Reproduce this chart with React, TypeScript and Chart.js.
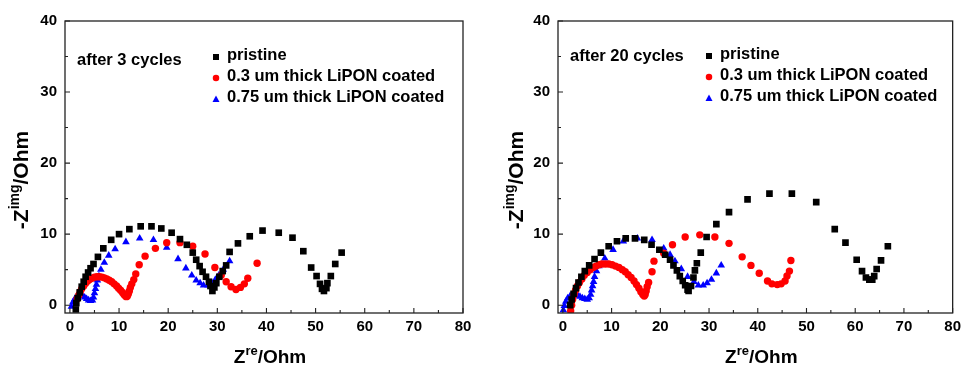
import React, { useEffect, useRef } from "react";
import { Chart, registerables } from "chart.js";

Chart.register(...registerables);

// ---------- data ----------
const xTicks = [0, 10, 20, 30, 40, 50, 60, 70, 80];
const yTicks = [0, 10, 20, 30, 40];
const seriesLabels = ["pristine", "0.3 um thick LiPON coated", "0.75 um thick LiPON coated"];
const panelNotes = ["after 3 cycles", "after 20 cycles"];
const xTitle = { main: "Z", sup: "re", rest: "/Ohm" };
const yTitle = { pre: "-Z", sup: "img", rest: "/Ohm" };

// after 3 cycles
const c3PristineX = [1.2, 1.3, 1.6, 2.0, 2.4, 2.8, 3.2, 3.7, 4.2, 4.8, 5.7, 6.8, 8.4, 10.0, 12.1, 14.4, 16.6, 18.6, 20.7, 22.4, 23.8, 25.0, 25.7, 26.4, 27.0, 27.7, 28.3, 28.6, 29.0, 29.4, 29.8, 30.4, 31.1, 31.8, 32.5, 34.2, 36.6, 39.2, 42.5, 45.3, 47.5, 49.1, 50.2, 50.9, 51.3, 51.7, 52.2, 52.4, 53.1, 54.0, 55.3];
const c3PristineY = [-0.6, 0.3, 1.0, 1.8, 2.6, 3.3, 4.0, 4.6, 5.2, 5.8, 6.8, 8.0, 9.2, 10.0, 10.7, 11.1, 11.1, 10.8, 10.2, 9.3, 8.5, 7.4, 6.4, 5.5, 4.7, 4.0, 3.3, 2.7, 2.0, 2.5, 3.1, 4.0, 4.8, 5.6, 7.5, 8.7, 9.7, 10.5, 10.2, 9.5, 7.6, 5.3, 4.1, 3.0, 2.3, 2.0, 2.4, 3.1, 4.1, 5.8, 7.4];
const c3ThinX = [1.5, 1.8, 2.1, 2.4, 2.8, 3.2, 3.6, 4.0, 4.5, 5.0, 5.5, 6.0, 6.5, 7.0, 7.5, 8.0, 8.5, 9.0, 9.5, 9.9, 10.3, 10.7, 11.0, 11.3, 11.5, 11.7, 11.9, 12.1, 12.3, 12.6, 13.0, 13.4, 14.1, 15.3, 17.4, 19.7, 22.4, 25.0, 27.5, 29.5, 30.8, 31.8, 32.8, 33.8, 34.7, 35.5, 36.2, 38.1];
const c3ThinY = [0.9, 1.4, 1.9, 2.3, 2.7, 3.1, 3.4, 3.6, 3.8, 3.95, 4.0, 4.0, 3.95, 3.85, 3.7, 3.5, 3.3, 3.0, 2.7, 2.4, 2.1, 1.8, 1.5, 1.3, 1.2, 1.3, 1.6, 2.0, 2.5, 3.0, 3.6, 4.4, 5.7, 6.9, 8.0, 8.8, 8.8, 8.3, 7.2, 5.3, 4.2, 3.3, 2.6, 2.2, 2.5, 3.0, 3.8, 5.9];
const c3ThickX = [0.3, 0.6, 1.0, 1.4, 1.8, 2.2, 2.6, 3.0, 3.4, 3.8, 4.2, 4.6, 4.8, 5.0, 5.2, 5.4, 5.6, 5.9, 6.3, 7.0, 7.9, 9.2, 11.4, 14.2, 17.0, 19.7, 22.0, 23.6, 24.8, 25.7, 26.5, 27.2, 28.1, 28.9, 29.6, 30.3, 31.2, 32.5];
const c3ThickY = [-0.2, 0.4, 0.9, 1.2, 1.4, 1.4, 1.3, 1.1, 0.9, 0.7, 0.6, 0.7, 1.1, 1.7, 2.3, 2.9, 3.5, 4.1, 5.0, 6.0, 7.0, 7.9, 8.9, 9.4, 9.2, 8.1, 6.5, 5.2, 4.2, 3.5, 3.1, 2.8, 2.8, 3.1, 3.6, 4.2, 5.0, 6.2];

// after 20 cycles
const c20PristineX = [1.5, 1.8, 2.2, 2.7, 3.2, 3.8, 4.5, 5.4, 6.5, 7.8, 9.4, 11.1, 12.9, 14.8, 16.7, 18.2, 19.8, 21.0, 22.0, 22.7, 23.4, 24.0, 24.6, 25.1, 25.6, 25.8, 26.3, 26.8, 27.1, 27.5, 28.3, 29.5, 31.5, 34.1, 37.9, 42.4, 47.0, 52.0, 55.8, 58.0, 60.3, 61.4, 62.2, 62.9, 63.5, 63.9, 64.4, 65.3, 66.7];
const c20PristineY = [0.0, 0.8, 1.6, 2.4, 3.2, 4.0, 4.8, 5.6, 6.5, 7.4, 8.3, 9.0, 9.4, 9.4, 9.2, 8.5, 7.8, 7.1, 6.4, 5.6, 4.9, 4.1, 3.4, 2.8, 2.2, 2.0, 2.7, 3.9, 4.9, 5.9, 7.4, 9.6, 11.4, 13.1, 14.9, 15.7, 15.7, 14.5, 10.7, 8.8, 6.4, 4.8, 3.9, 3.6, 3.6, 4.1, 5.1, 6.3, 8.3];
const c20ThinX = [1.6, 1.8, 2.0, 2.3, 2.6, 3.0, 3.4, 3.9, 4.4, 5.0, 5.6, 6.2, 6.8, 7.4, 8.0, 8.7, 9.4, 10.1, 10.8, 11.5, 12.2, 12.8, 13.4, 14.0, 14.6, 15.1, 15.6, 16.0, 16.4, 16.7, 16.9, 17.1, 17.3, 17.6, 18.3, 18.7, 20.7, 22.5, 25.1, 28.1, 31.2, 34.1, 36.8, 38.6, 40.3, 42.0, 42.9, 44.0, 44.8, 45.6, 46.0, 46.5, 46.8];
const c20ThinY = [-0.8, 0.0, 0.8, 1.5, 2.1, 2.7, 3.2, 3.7, 4.2, 4.6, 5.0, 5.3, 5.5, 5.7, 5.8, 5.8, 5.8, 5.7, 5.5, 5.3, 5.0, 4.7, 4.3, 3.9, 3.4, 2.9, 2.4, 1.9, 1.5, 1.3, 1.5, 2.0, 2.6, 3.2, 4.7, 6.2, 7.3, 8.5, 9.6, 9.9, 9.6, 8.7, 6.8, 5.6, 4.5, 3.4, 3.0, 2.9, 3.0, 3.4, 4.1, 4.8, 6.3];
const c20ThickX = [0.1, 0.3, 0.6, 1.0, 1.5, 2.0, 2.5, 3.0, 3.5, 4.0, 4.5, 5.0, 5.4, 5.7, 5.9, 6.1, 6.3, 6.5, 6.9, 7.4, 8.6, 10.3, 12.4, 15.3, 18.3, 20.7, 22.0, 23.0, 24.3, 25.6, 26.9, 27.8, 28.8, 29.6, 30.5, 31.5, 32.5];
const c20ThickY = [-0.7, -0.1, 0.5, 1.0, 1.3, 1.5, 1.5, 1.4, 1.2, 1.0, 0.9, 0.8, 1.0, 1.5, 2.1, 2.7, 3.3, 4.0, 4.8, 5.5, 6.6, 7.8, 9.0, 9.4, 9.2, 8.0, 7.1, 6.2, 5.1, 4.0, 3.3, 2.8, 2.8, 3.1, 3.6, 4.5, 5.6];

const panels = [
  { note: panelNotes[0], series: [[c3PristineX, c3PristineY], [c3ThinX, c3ThinY], [c3ThickX, c3ThickY]] },
  { note: panelNotes[1], series: [[c20PristineX, c20PristineY], [c20ThinX, c20ThinY], [c20ThickX, c20ThickY]] },
];

// ---------- style / layout ----------
const FONT = '"Liberation Sans", Arial, Helvetica, sans-serif';
const colors = ["#000000", "#ff0000", "#0000ff"];
const styles = ["rect", "circle", "triangle"] as const;
const radii = [4.7, 3.7, 4.4];
const CW = 483;
const CH = 367;
const layouts = [
  { canvasLeft: 0, areaLeft: 65, areaRight: 463, yTitleX: 28, xTitleDx: 6, noteY: 60, legendY: [57, 78, 99] },
  { canvasLeft: 483, areaLeft: 75, areaRight: 475, yTitleX: 40, xTitleDx: 6, noteY: 56, legendY: [56, 77, 98] },
];
const AREA_TOP = 21;
const AREA_BOTTOM = 313;

function drawMarker(ctx: CanvasRenderingContext2D, style: string, x: number, y: number, s: number, color: string) {
  ctx.fillStyle = color;
  ctx.beginPath();
  if (style === "rect") {
    ctx.rect(x - s / 2, y - s / 2, s, s);
  } else if (style === "circle") {
    ctx.arc(x, y, s / 2, 0, Math.PI * 2);
  } else {
    const h = s * 0.87;
    ctx.moveTo(x, y - h / 2 - 0.5);
    ctx.lineTo(x + s / 2, y + h / 2);
    ctx.lineTo(x - s / 2, y + h / 2);
    ctx.closePath();
  }
  ctx.fill();
}

function drawSupText(
  ctx: CanvasRenderingContext2D,
  parts: { t: string; sup?: boolean }[],
  cx: number,
  baseY: number,
  mainSize: number,
  supSize: number,
  raise: number
) {
  const widths = parts.map((p) => {
    ctx.font = `bold ${p.sup ? supSize : mainSize}px ${FONT}`;
    return ctx.measureText(p.t).width;
  });
  const total = widths.reduce((a, b) => a + b, 0);
  let x = cx - total / 2;
  ctx.textAlign = "left";
  ctx.textBaseline = "alphabetic";
  parts.forEach((p, i) => {
    ctx.font = `bold ${p.sup ? supSize : mainSize}px ${FONT}`;
    ctx.fillText(p.t, x, p.sup ? baseY - raise : baseY);
    x += widths[i];
  });
}

function makeDecorPlugin(panelIndex: number) {
  const lay = layouts[panelIndex];
  const panel = panels[panelIndex];
  return {
    id: "decor" + panelIndex,
    afterDraw(chart: any) {
      const ctx: CanvasRenderingContext2D = chart.ctx;
      const a = chart.chartArea;
      const xs = chart.scales.x;
      const ys = chart.scales.y;
      ctx.save();
      // frame
      ctx.strokeStyle = "#222";
      ctx.lineWidth = 1.3;
      ctx.strokeRect(a.left, a.top, a.right - a.left, a.bottom - a.top);
      // inward ticks (major + minor)
      ctx.lineWidth = 1.1;
      ctx.beginPath();
      for (let i = 0; i < xTicks.length; i++) {
        const v = xTicks[i];
        const px = xs.getPixelForValue(v);
        ctx.moveTo(px, a.bottom);
        ctx.lineTo(px, a.bottom - 5);
        if (i < xTicks.length - 1) {
          const m = xs.getPixelForValue((v + xTicks[i + 1]) / 2);
          ctx.moveTo(m, a.bottom);
          ctx.lineTo(m, a.bottom - 3);
        }
      }
      for (let i = 0; i < yTicks.length; i++) {
        const v = yTicks[i];
        const py = ys.getPixelForValue(v);
        ctx.moveTo(a.left, py);
        ctx.lineTo(a.left + 5, py);
        if (i < yTicks.length - 1) {
          const m = ys.getPixelForValue((v + yTicks[i + 1]) / 2);
          ctx.moveTo(a.left, m);
          ctx.lineTo(a.left + 3, m);
        }
      }
      ctx.stroke();

      ctx.fillStyle = "#000";
      // x title
      drawSupText(
        ctx,
        [{ t: xTitle.main }, { t: xTitle.sup, sup: true }, { t: xTitle.rest }],
        (a.left + a.right) / 2 + lay.xTitleDx,
        363,
        19,
        13,
        8
      );
      // y title
      ctx.save();
      ctx.translate(lay.yTitleX, 180);
      ctx.rotate(-Math.PI / 2);
      drawSupText(ctx, [{ t: yTitle.pre }, { t: yTitle.sup, sup: true }, { t: yTitle.rest }], 0, 0, 21, 14, 9);
      ctx.restore();

      // note
      ctx.font = `bold 16.5px ${FONT}`;
      ctx.textAlign = "left";
      ctx.textBaseline = "middle";
      ctx.fillStyle = "#000";
      ctx.fillText(panel.note, a.left + 12, lay.noteY);

      // legend
      const markerSizes = [6, 6.5, 7];
      for (let i = 0; i < 3; i++) {
        const y = lay.legendY[i];
        drawMarker(ctx, styles[i], a.left + 151, y, markerSizes[i], colors[i]);
        ctx.fillStyle = "#000";
        ctx.font = `bold 16.5px ${FONT}`;
        ctx.fillText(seriesLabels[i], a.left + 162, y - 2);
      }
      ctx.restore();
    },
  };
}

function buildConfig(panelIndex: number): any {
  const lay = layouts[panelIndex];
  const panel = panels[panelIndex];
  return {
    type: "scatter",
    data: {
      datasets: panel.series.map(([xsArr, ysArr], i) => ({
        label: seriesLabels[i],
        data: xsArr.map((x, k) => ({ x, y: ysArr[k] })),
        pointStyle: styles[i],
        pointRadius: radii[i],
        pointHoverRadius: radii[i],
        backgroundColor: colors[i],
        borderColor: colors[i],
        borderWidth: 0,
        showLine: false,
      })),
    },
    options: {
      animation: false,
      responsive: false,
      devicePixelRatio: 1,
      events: [],
      layout: { padding: { left: 0, top: AREA_TOP, right: CW - lay.areaRight, bottom: 0 } },
      plugins: { legend: { display: false }, tooltip: { enabled: false }, title: { display: false } },
      scales: {
        x: {
          type: "linear",
          min: -1,
          max: 80,
          afterBuildTicks: (s: any) => {
            s.ticks = xTicks.map((v) => ({ value: v }));
          },
          afterFit: (s: any) => {
            s.height = CH - AREA_BOTTOM;
          },
          grid: { display: false, drawTicks: false },
          border: { display: false },
          ticks: {
            color: "#000",
            padding: 5,
            maxRotation: 0,
            autoSkip: false,
            font: { family: FONT, size: 15, weight: "bold" },
          },
        },
        y: {
          type: "linear",
          min: -1.1,
          max: 40,
          afterBuildTicks: (s: any) => {
            s.ticks = yTicks.map((v) => ({ value: v }));
          },
          afterFit: (s: any) => {
            s.width = lay.areaLeft;
          },
          grid: { display: false, drawTicks: false },
          border: { display: false },
          ticks: {
            color: "#000",
            padding: 8,
            autoSkip: false,
            font: { family: FONT, size: 15, weight: "bold" },
          },
        },
      },
    },
    plugins: [makeDecorPlugin(panelIndex)],
  };
}

function Panel({ index }: { index: number }) {
  const ref = useRef<HTMLCanvasElement | null>(null);
  useEffect(() => {
    if (!ref.current) return;
    const chart = new Chart(ref.current, buildConfig(index));
    return () => chart.destroy();
  }, [index]);
  return (
    <canvas
      ref={ref}
      width={CW}
      height={CH}
      style={{ position: "absolute", left: layouts[index].canvasLeft, top: 0, width: CW, height: CH }}
    />
  );
}

export default function App() {
  return (
    <div style={{ position: "fixed", left: 0, top: 0, width: 966, height: 367, background: "#fff", overflow: "hidden" }}>
      <Panel index={0} />
      <Panel index={1} />
    </div>
  );
}
